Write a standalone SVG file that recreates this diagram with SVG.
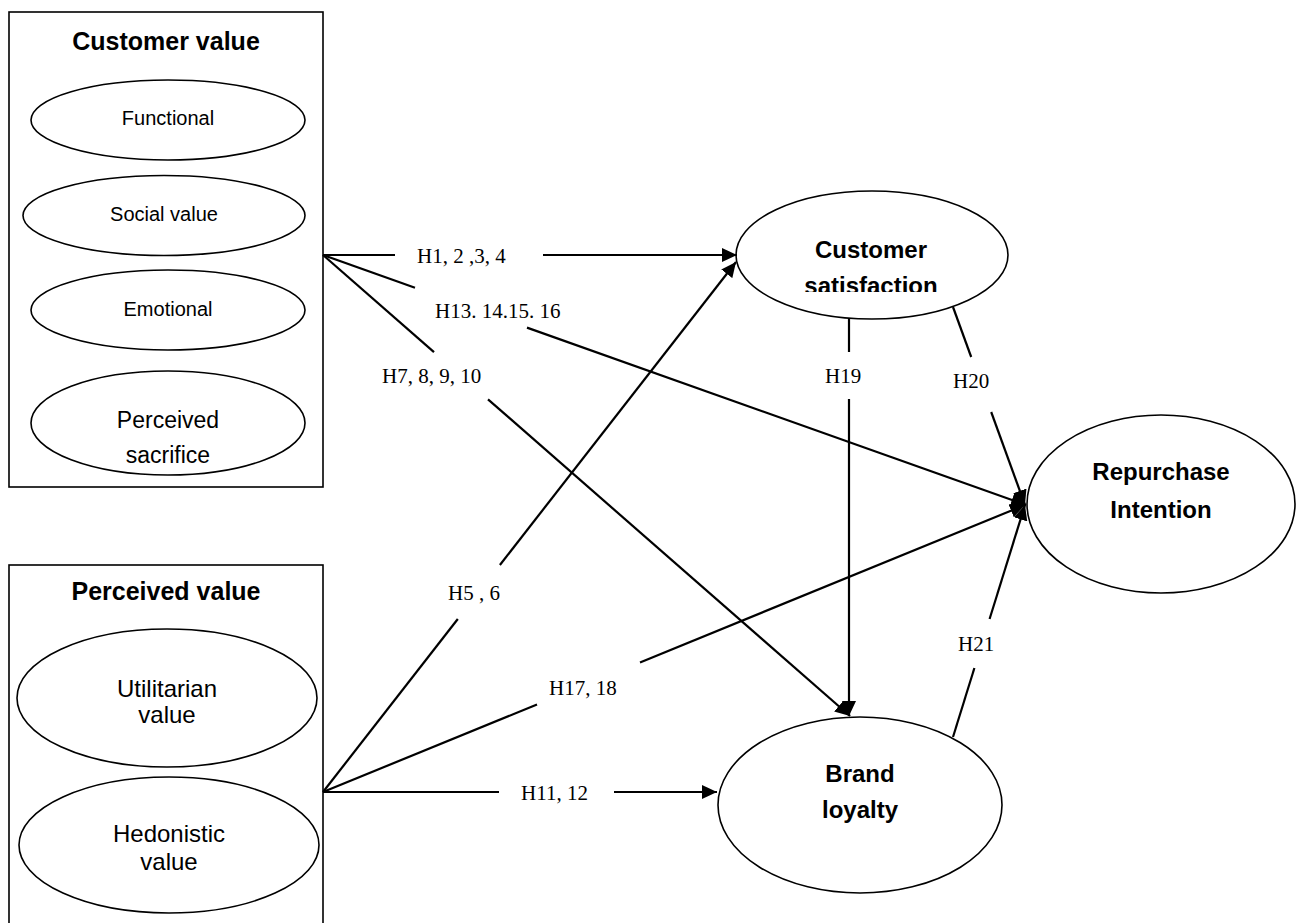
<svg xmlns="http://www.w3.org/2000/svg" width="1304" height="923" viewBox="0 0 1304 923">
<style>
.box{fill:none;stroke:#000;stroke-width:1.6}
.ell{fill:#fff;stroke:#000;stroke-width:1.6}
.t{font-family:"Liberation Sans",Arial,sans-serif;fill:#000;text-anchor:middle}
.b{font-weight:bold}
.lab{font-family:"Liberation Serif","Times New Roman",serif;font-size:21px;fill:#000}
.c{stroke:#000;stroke-width:2.2;fill:none}
</style>
<defs>
<marker id="ah" markerUnits="userSpaceOnUse" markerWidth="16" markerHeight="14" refX="15" refY="7" orient="auto">
<path d="M0,0 L15,7 L0,14 Z" fill="#000"/>
</marker>
<clipPath id="csclip"><rect x="730" y="180" width="300" height="112"/></clipPath>
</defs>
<rect width="1304" height="923" fill="#fff"/>
<g id="customer-value">
<rect class="box" x="9" y="12" width="314" height="475"/>
<text class="t b" x="166" y="50" font-size="25">Customer value</text>
<g id="functional"><ellipse class="ell" cx="168" cy="120" rx="137" ry="40"/><text class="t" x="168" y="125" font-size="20">Functional</text></g>
<g id="social"><ellipse class="ell" cx="164" cy="215.5" rx="141" ry="40"/><text class="t" x="164" y="221" font-size="20">Social value</text></g>
<g id="emotional"><ellipse class="ell" cx="168" cy="310" rx="137" ry="40"/><text class="t" x="168" y="316" font-size="20">Emotional</text></g>
<g id="sacrifice"><ellipse class="ell" cx="168" cy="423" rx="137" ry="52"/><text class="t" x="168" y="428" font-size="23">Perceived</text><text class="t" x="168" y="463" font-size="23">sacrifice</text></g>
</g>
<g id="perceived-value">
<rect class="box" x="9" y="565" width="314" height="370"/>
<text class="t b" x="166" y="600" font-size="25">Perceived value</text>
<g id="utilitarian"><ellipse class="ell" cx="167" cy="698" rx="150" ry="69"/><text class="t" x="167" y="697" font-size="24">Utilitarian</text><text class="t" x="167" y="723" font-size="24">value</text></g>
<g id="hedonistic"><ellipse class="ell" cx="169" cy="845" rx="150" ry="68"/><text class="t" x="169" y="842" font-size="24">Hedonistic</text><text class="t" x="169" y="870" font-size="24">value</text></g>
</g>
<g id="customer-satisfaction">
<ellipse class="ell" cx="872" cy="255" rx="136" ry="64"/>
<text class="t b" x="871" y="258" font-size="24">Customer</text>
<text class="t b" x="871" y="294" font-size="24" clip-path="url(#csclip)">satisfaction</text>
</g>
<g id="repurchase-intention">
<ellipse class="ell" cx="1161" cy="504" rx="134" ry="89"/>
<text class="t b" x="1161" y="480" font-size="24">Repurchase</text>
<text class="t b" x="1161" y="518" font-size="24">Intention</text>
</g>
<g id="brand-loyalty">
<ellipse class="ell" cx="860" cy="805" rx="142" ry="88"/>
<text class="t b" x="860" y="782" font-size="24">Brand</text>
<text class="t b" x="860" y="818" font-size="24">loyalty</text>
</g>
<g id="connectors">
<line class="c" x1="323" y1="255" x2="395" y2="255"/>
<line class="c" x1="543" y1="255" x2="737" y2="255" marker-end="url(#ah)"/>
<line class="c" x1="323" y1="255" x2="415" y2="287.7"/>
<line class="c" x1="527" y1="327.6" x2="1026" y2="505" marker-end="url(#ah)"/>
<line class="c" x1="323" y1="255" x2="434" y2="352.1"/>
<line class="c" x1="488" y1="399.3" x2="850" y2="716" marker-end="url(#ah)"/>
<line class="c" x1="849" y1="318" x2="849" y2="352"/>
<line class="c" x1="849" y1="399" x2="849" y2="716" marker-end="url(#ah)"/>
<line class="c" x1="953" y1="307" x2="971.2" y2="357"/>
<line class="c" x1="991.2" y1="412" x2="1025" y2="505" marker-end="url(#ah)"/>
<line class="c" x1="953" y1="737" x2="974.4" y2="668"/>
<line class="c" x1="989.6" y1="619" x2="1025" y2="505" marker-end="url(#ah)"/>
<line class="c" x1="323" y1="792" x2="457.8" y2="619"/>
<line class="c" x1="499.9" y1="565" x2="736" y2="262" marker-end="url(#ah)"/>
<line class="c" x1="323" y1="792" x2="537" y2="704.5"/>
<line class="c" x1="640" y1="662.4" x2="1025" y2="505" marker-end="url(#ah)"/>
<line class="c" x1="323" y1="792" x2="499" y2="792"/>
<line class="c" x1="614" y1="792" x2="717" y2="792" marker-end="url(#ah)"/>
<text class="lab" x="417" y="263">H1, 2 ,3, 4</text>
<text class="lab" x="435" y="318">H13. 14.15. 16</text>
<text class="lab" x="382" y="383">H7, 8, 9, 10</text>
<text class="lab" x="825" y="383">H19</text>
<text class="lab" x="953" y="388">H20</text>
<text class="lab" x="958" y="651">H21</text>
<text class="lab" x="448" y="600">H5 , 6</text>
<text class="lab" x="549" y="695">H17, 18</text>
<text class="lab" x="521" y="800">H11, 12</text>
</g>
</svg>
